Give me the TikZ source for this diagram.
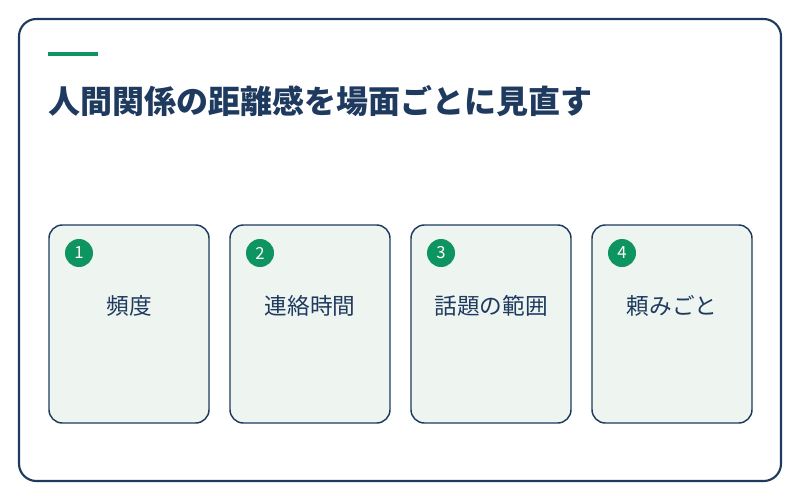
\documentclass[tikz,border=0pt]{standalone}
\usepackage{fontspec}
\setmainfont{Noto Sans CJK JP}
\usetikzlibrary{positioning}
\definecolor{navy}{HTML}{1F3A5F}
\definecolor{leaf}{HTML}{0E9460}
\definecolor{mint}{HTML}{EEF5F0}
\tikzset{
  frame/.style={draw=navy,line width=1.6pt,rounded corners=13pt},
  card/.style={draw=navy,line width=1.1pt,fill=mint,rounded corners=10pt,
    minimum width=120pt,minimum height=148.5pt,inner sep=0pt},
  badge/.style={circle,fill=leaf,text=white,minimum size=21pt,inner sep=0pt,font=\fontsize{12.5}{12.5}\selectfont},
  label/.style={text=navy,font=\fontsize{17}{17}\selectfont}
}
\begin{document}
\begin{tikzpicture}[x=0.75pt,y=-0.75pt]
\useasboundingbox (0,0) rectangle (800,500);
\draw [frame] (19,19) rectangle (781,481);
\draw [leaf,line width=3pt] (48,54) -- (98,54);
\node [anchor=base west,inner sep=0pt,text=navy,font=\fontsize{24}{24}\selectfont\bfseries] (title) at (48,113) {人間関係の距離感を場面ごとに見直す};
\foreach \i/\x/\t in {1/129/頻度,2/310/連絡時間,3/491/話題の範囲,4/672/頼みごと}{
  \node [card] (card\i) at (\x,324) {};
  \node [badge] (num\i) at (\x-50,253) {\i};
  \node [label] (txt\i) at (\x,306) {\t};
}
\end{tikzpicture}
\end{document}
